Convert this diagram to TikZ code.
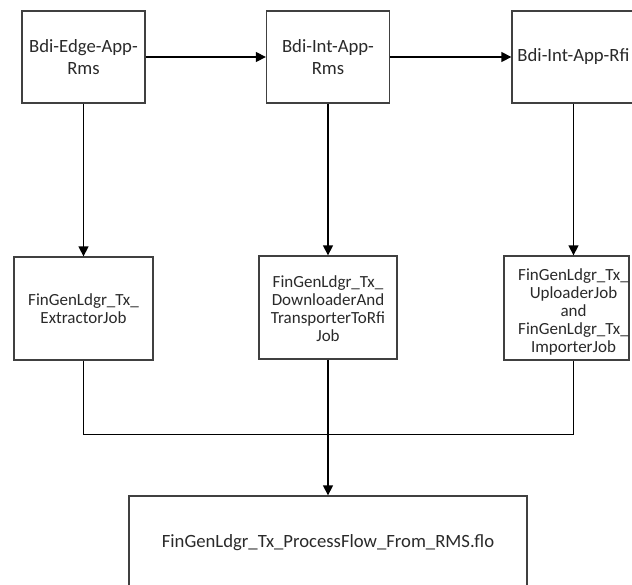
\documentclass[tikz,border=0pt]{standalone}
\usepackage{fontspec}
\setmainfont{Carlito}
\usetikzlibrary{arrows.meta,calc}
\definecolor{linec}{HTML}{404040}
\definecolor{textc}{HTML}{2A2A2A}
\tikzset{
  appbox/.style={draw=linec, line width=1.3pt, fill=white, minimum width=123pt, minimum height=92pt, inner sep=0pt,
    font=\fontsize{18.7}{22}\selectfont, text=textc, align=center},
  jobbox/.style={draw=linec, line width=1.3pt, fill=white, inner sep=0pt, minimum height=103pt},
  jobtext/.style={font=\fontsize{17}{18}\selectfont, text=textc, align=center, inner sep=0pt},
  flobox/.style={draw=linec, line width=1.3pt, fill=white, minimum width=398pt, minimum height=94pt, inner sep=0pt,
    font=\fontsize{18.7}{22}\selectfont, text=textc},
  conn/.style={draw=black, line width=1.3pt},
  arr/.style={conn, -{Triangle[length=10pt,width=10pt]}},
}
\begin{document}
\begin{tikzpicture}[x=1pt,y=-1pt]
\useasboundingbox (0,0) rectangle (632,584);
\clip (0,0) rectangle (632,584);
% top row
\node[appbox] (r1) at (83.5,57) {Bdi-Edge-App-\\Rms};
\node[appbox] (r2) at (328,57) {Bdi-Int-App-\\Rms};
\node[appbox] (r3) at (573.5,57) {Bdi-Int-App-Rfi};
% job row
\node[jobbox, minimum width=139pt] (ja) at (83.5,308.5) {};
\node[jobtext] (jat) at (83.5,309) {FinGenLdgr\_Tx\_\\ExtractorJob};
\node[jobbox, minimum width=138pt] (jb) at (328,307.5) {};
\node[jobtext] (jbt) at (328,309) {FinGenLdgr\_Tx\_\\DownloaderAnd\\TransporterToRfi\\Job};
\node[jobbox, minimum width=125pt, minimum height=104pt] (jc) at (566.5,308) {};
\node[jobtext] (jct) at (573.5,312) {FinGenLdgr\_Tx\_\\UploaderJob\\and\\FinGenLdgr\_Tx\_\\ImporterJob};
% bottom
\node[flobox] (flo) at (328,543) {FinGenLdgr\_Tx\_ProcessFlow\_From\_RMS.flo};
% connectors
\draw[arr] (r1.east) -- (r2.west);
\draw[arr] (r2.east) -- (r3.west);
\draw[arr] (r1.south) -- (r1.south |- ja.north);
\draw[arr] (r2.south) -- (r2.south |- jb.north);
\draw[arr] (r3.south) -- (r3.south |- jc.north);
\coordinate (jl) at ($(ja.south)+(0,74)$);
\coordinate (jr) at (r3.south |- jl);
\draw[conn] (ja.south) -- (jl) -- (jr) -- (r3.south |- jc.south);
\draw[arr] (jb.south) -- (jb.south |- flo.north);
\end{tikzpicture}
\end{document}
